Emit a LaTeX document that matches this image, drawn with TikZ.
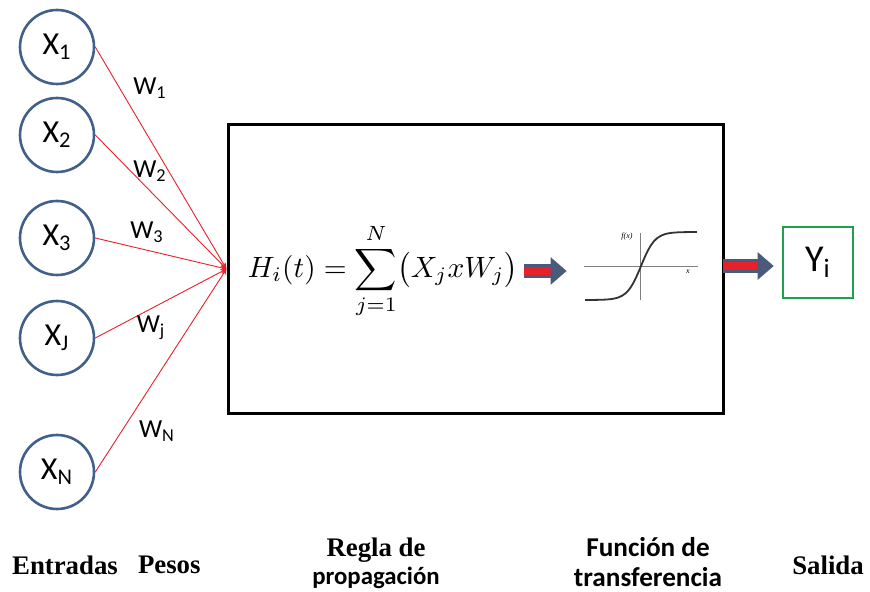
\documentclass[tikz,border=0pt]{standalone}
\usepackage{graphicx}
\usepackage{fontspec}
\setmainfont{Liberation Serif}
\newfontfamily\carlito{Carlito}
\usetikzlibrary{arrows.meta,positioning}
\definecolor{ringblue}{HTML}{41608A}
\definecolor{wirered}{HTML}{E8202A}
\definecolor{outgreen}{HTML}{1FA050}
\definecolor{slate}{HTML}{4A5A7A}

\begin{document}
\begin{tikzpicture}[x=0.5pt,y=-0.5pt,>=Stealth,
    neuron/.style={draw=ringblue,line width=1.3pt,circle,minimum size=37pt,inner sep=0pt,font=\carlito\fontsize{16}{18}\selectfont},
    wire/.style={draw=wirered,line width=0.45pt,-{Stealth[length=3pt,width=2.5pt]}},
    weight/.style={font=\carlito\fontsize{13}{15}\selectfont},
    fat/.style={draw=slate,line width=1.4pt,double=wirered,double distance=4pt,-{Triangle[length=8pt,width=13.5pt]}},
    caption/.style={font=\bfseries\fontsize{13.4}{14}\selectfont,align=center},
    scaption/.style={font=\carlito\bfseries\fontsize{13.6}{15}\selectfont,align=center}]
  \useasboundingbox (0,0) rectangle (870,592);
  % inputs
  \node[neuron] (x1) at (57,47) {X\textsubscript{1}};
  \node[neuron] (x2) at (57,135) {X\textsubscript{2}};
  \node[neuron] (x3) at (57,238) {X\textsubscript{3}};
  \node[neuron] (xj) at (57,338) {X\textsubscript{J}};
  \node[neuron] (xn) at (57,472) {X\textsubscript{N}};
  % propagation rule
  \node[draw,line width=1.5pt,minimum width=247.5pt,minimum height=144pt] (rule) at (475.5,269) {};
  \foreach \n in {x1,x2,x3,xj,xn}
    \draw[wire] (\n.east) -- (rule.west);
  \node[weight] (w1) at (150,88) {W\textsubscript{1}};
  \node[weight] (w2) at (150,171) {W\textsubscript{2}};
  \node[weight] (w3) at (147,232) {W\textsubscript{3}};
  \node[weight] (wj) at (151,328) {W\textsubscript{j}};
  \node[weight] (wn) at (157,431) {W\textsubscript{N}};
  \node[inner sep=1pt] (hi) at (383,271)
    {\scalebox{1.47}{$\displaystyle H_i(t)=\sum_{j=1}^{N}\bigl(X_j x W_j\bigr)$}};
  % transfer function
  \node[minimum width=57pt,minimum height=37pt,inner sep=0pt] (fx) at (641,266) {};
  \draw[black!50,line width=0.45pt] (fx.west) -- (fx.east);
  \draw[black!50,line width=0.45pt] (640,233) -- (640,300);
  \draw[black!80,line width=0.9pt] plot[smooth,samples=40,domain=-1:1] ({641+56*\x},{266-34*tanh(4*\x)});
  \node[font=\fontsize{4}{4}\selectfont\itshape] (fxlab) at (627,237) {f(x)};
  \node[font=\fontsize{4}{4}\selectfont\itshape] (xlab) at (688,272) {x};
  % output
  \node[draw=outgreen,line width=1.3pt,minimum width=35pt,minimum height=35.5pt,font=\carlito\fontsize{19}{21}\selectfont] (yi) at (818,262.5) {Y\textsubscript{i}};
  \draw[fat,shorten <=2pt,shorten >=8.5pt] (hi.east) -- (hi.east -| fx.west);
  \draw[fat,shorten <=12.5pt,shorten >=4pt] (fx.east) -- (fx.east -| yi.west);
  % captions
  \node[caption] (entradas) at (65,565) {Entradas};
  \node[caption,right=3pt of entradas] (pesos) {Pesos};
  \node[caption] (regla) at (376,563) {Regla de\\{\carlito\fontsize{12.4}{15}\selectfont propagación}};
  \node[scaption] (funcion) at (648,562) {Función de\\transferencia};
  \node[caption] (salida) at (828,565) {Salida};
\end{tikzpicture}
\end{document}
